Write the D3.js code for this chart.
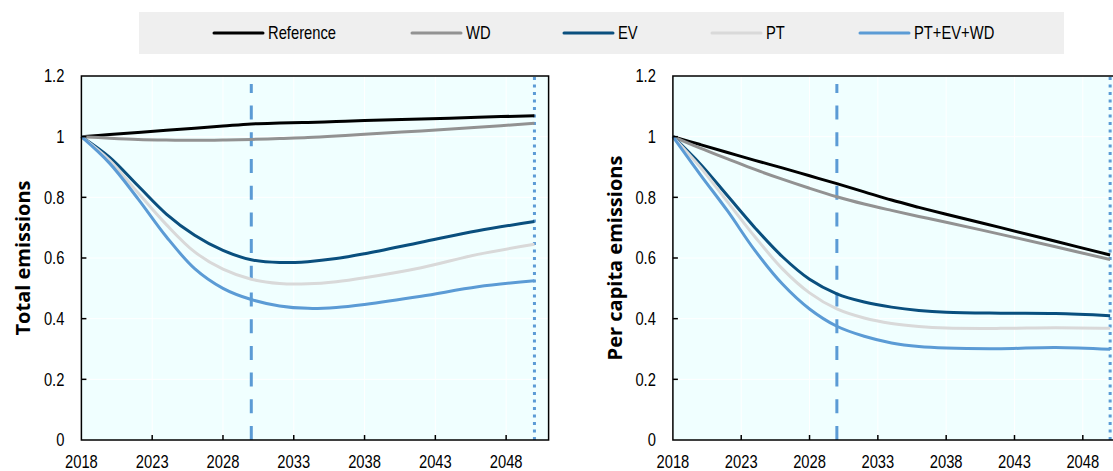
<!DOCTYPE html>
<html>
<head>
<meta charset="utf-8">
<script src="https://cdn.jsdelivr.net/npm/d3@7"></script>
<style>
  body { margin: 0; background: #fff; }
  .tick-label { font-family: 'Liberation Sans', Arial, sans-serif; font-size: 18px; fill: #000; }
  .axis-title { font-family: 'Open Sans', 'Noto Sans', sans-serif; font-size: 20px; font-weight: bold; fill: #000; }
</style>
</head>
<body>
<script>
// chart data
const years = [2018, 2020, 2022, 2024, 2026, 2028, 2030, 2032, 2034, 2036, 2038, 2042, 2046, 2050];
const seriesNames = ["Reference", "WD", "EV", "PT", "PT+EV+WD"];
const seriesColors = ["#000000", "#929292", "#0a4f7e", "#d9d9d9", "#5b9bd5"];

// Total emissions (left panel)
const totalReference = [1.0, 1.007, 1.014, 1.021, 1.028, 1.035, 1.042, 1.045, 1.047, 1.050, 1.053, 1.058, 1.064, 1.069];
const totalWD        = [1.0, 0.995, 0.991, 0.989, 0.988, 0.989, 0.991, 0.994, 0.997, 1.002, 1.008, 1.019, 1.031, 1.044];
const totalEV        = [1.0, 0.932, 0.838, 0.745, 0.675, 0.625, 0.594, 0.585, 0.588, 0.598, 0.614, 0.652, 0.690, 0.720];
const totalPT        = [1.0, 0.922, 0.815, 0.710, 0.620, 0.563, 0.530, 0.516, 0.515, 0.522, 0.535, 0.568, 0.612, 0.645];
const totalAll       = [1.0, 0.912, 0.795, 0.670, 0.565, 0.500, 0.463, 0.442, 0.434, 0.437, 0.447, 0.474, 0.505, 0.525];

// Per capita emissions (right panel)
const capitaReference = [1.0, 0.974, 0.948, 0.922, 0.897, 0.871, 0.845, 0.818, 0.791, 0.767, 0.744, 0.700, 0.655, 0.610];
const capitaWD        = [1.0, 0.962, 0.927, 0.892, 0.860, 0.830, 0.802, 0.778, 0.757, 0.737, 0.718, 0.678, 0.637, 0.595];
const capitaEV        = [1.0, 0.910, 0.805, 0.700, 0.605, 0.530, 0.482, 0.455, 0.438, 0.427, 0.421, 0.418, 0.417, 0.410];
const capitaPT        = [1.0, 0.900, 0.785, 0.670, 0.565, 0.485, 0.432, 0.402, 0.384, 0.374, 0.369, 0.368, 0.370, 0.368];
const capitaAll       = [1.0, 0.875, 0.755, 0.625, 0.515, 0.432, 0.375, 0.342, 0.320, 0.308, 0.303, 0.301, 0.305, 0.299];

const xTicks = [2018, 2023, 2028, 2033, 2038, 2043, 2048];
const yTicks = [0, 0.2, 0.4, 0.6, 0.8, 1, 1.2];
const yTickLabels = ["0", "0.2", "0.4", "0.6", "0.8", "1", "1.2"];
const dashedYear = 2030;
const dottedYear = 2050;

const width = 1113, height = 471;
const narrow = 0.82; // the labels use a condensed face

let svg = d3.select("body").append("svg")
  .attr("width", width)
  .attr("height", height);

appendLegend();

drawPanel({
  left: 81.4, right: 548.6, title: "Total emissions", titleX: 30,
  series: [totalReference, totalWD, totalEV, totalPT, totalAll]
});
drawPanel({
  left: 672.9, right: 1123.8, title: "Per capita emissions", titleX: 622,
  series: [capitaReference, capitaWD, capitaEV, capitaPT, capitaAll]
});

// text squeezed horizontally around its anchor point
function narrowText(parent, x, y, str, anchor) {
  parent.append("g")
    .attr("transform", `translate(${x}, ${y}) scale(${narrow}, 1)`)
    .append("text")
    .attr("class", "tick-label")
    .attr("text-anchor", anchor)
    .attr("dy", anchor === "middle" ? 0 : "0.36em")
    .text(str);
}

function drawPanel(p) {
  const top = 76, bottom = 440;
  const x = d3.scaleLinear().domain([2018, 2051]).range([p.left, p.right]);
  const y = d3.scaleLinear().domain([0, 1.2]).range([bottom, top]);

  const g = svg.append("g");

  // plot background
  g.append("rect")
    .attr("x", p.left).attr("y", top)
    .attr("width", p.right - p.left).attr("height", bottom - top)
    .attr("fill", "#f0ffff");

  // white grid
  g.selectAll(".vgrid").data(xTicks.slice(1))
    .enter().append("line")
    .attr("x1", d => x(d)).attr("x2", d => x(d))
    .attr("y1", top).attr("y2", bottom)
    .attr("stroke", "#fff").attr("stroke-width", 1);
  g.selectAll(".hgrid").data(yTicks.slice(1, -1))
    .enter().append("line")
    .attr("x1", p.left).attr("x2", p.right)
    .attr("y1", d => y(d)).attr("y2", d => y(d))
    .attr("stroke", "#fff").attr("stroke-width", 1);

  // reference years
  g.append("line")
    .attr("x1", x(dashedYear)).attr("x2", x(dashedYear))
    .attr("y1", y(0)).attr("y2", y(1.2) + 8)
    .attr("stroke", "#5b9bd5").attr("stroke-width", 3)
    .attr("stroke-dasharray", "14,12.7");
  g.append("line")
    .attr("x1", x(dottedYear)).attr("x2", x(dottedYear))
    .attr("y1", y(0)).attr("y2", y(1.2))
    .attr("stroke", "#5b9bd5").attr("stroke-width", 3)
    .attr("stroke-dasharray", "3,4.5");

  // lines
  const line = d3.line()
    .x((d, i) => x(years[i]))
    .y(d => y(d))
    .curve(d3.curveCatmullRom.alpha(0.5));

  p.series.forEach(function (values, i) {
    g.append("path")
      .datum(values)
      .attr("d", line)
      .attr("fill", "none")
      .attr("stroke", seriesColors[i])
      .attr("stroke-width", 3)
      .attr("stroke-linejoin", "round");
  });

  // frame
  g.append("rect")
    .attr("x", p.left).attr("y", top)
    .attr("width", p.right - p.left).attr("height", bottom - top)
    .attr("fill", "none")
    .attr("stroke", "#000").attr("stroke-width", 1.5);

  // ticks (inside)
  g.selectAll(".xtick").data(xTicks.slice(1))
    .enter().append("line")
    .attr("x1", d => x(d)).attr("x2", d => x(d))
    .attr("y1", bottom).attr("y2", bottom - 5)
    .attr("stroke", "#000").attr("stroke-width", 1.5);
  g.selectAll(".ytick").data(yTicks.slice(1, -1))
    .enter().append("line")
    .attr("x1", p.left).attr("x2", p.left + 5)
    .attr("y1", d => y(d)).attr("y2", d => y(d))
    .attr("stroke", "#000").attr("stroke-width", 1.5);

  // tick labels
  xTicks.forEach(d => narrowText(g, x(d), 468, d, "middle"));
  yTicks.forEach((d, i) => narrowText(g, p.left - 17, y(d), yTickLabels[i], "end"));

  // axis title
  g.append("text")
    .attr("class", "axis-title")
    .attr("transform", `translate(${p.titleX}, ${(top + bottom) / 2}) rotate(-90)`)
    .attr("text-anchor", "middle")
    .text(p.title);
}

function appendLegend() {
  const lg = svg.append("g");
  lg.append("rect")
    .attr("x", 139).attr("y", 12)
    .attr("width", 925).attr("height", 42)
    .attr("fill", "#efefef");

  const lineStarts = [214, 412, 564, 712, 860];
  seriesNames.forEach(function (name, i) {
    lg.append("line")
      .attr("x1", lineStarts[i])
      .attr("x2", lineStarts[i] + 49)
      .attr("y1", 33).attr("y2", 33)
      .attr("stroke", seriesColors[i])
      .attr("stroke-width", 3)
      .attr("stroke-linecap", "round");
    narrowText(lg, lineStarts[i] + 54, 33, name, "start");
  });
}
</script>
</body>
</html>
